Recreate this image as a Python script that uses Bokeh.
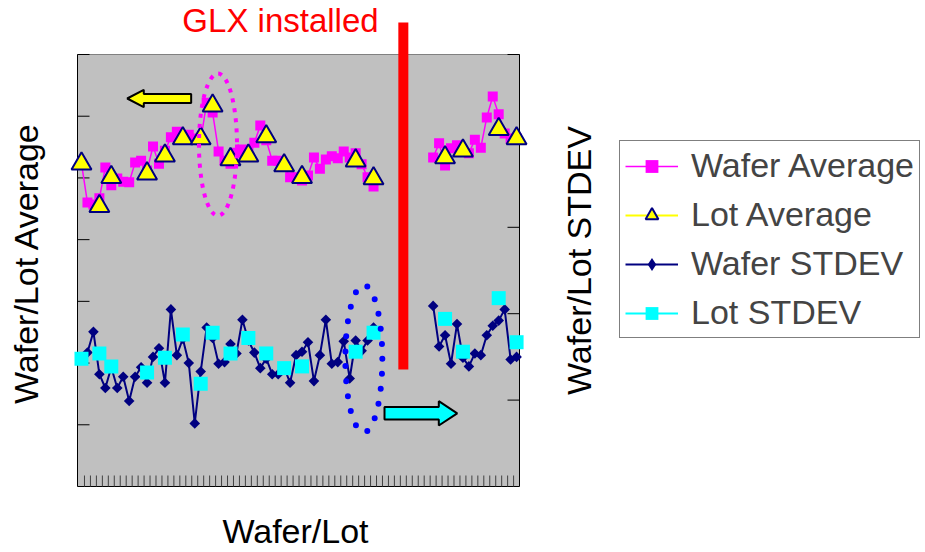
import math
import numpy as np
from bokeh.plotting import figure
from bokeh.models import (Range1d, Legend, LegendItem, Label, ColumnDataSource)
from bokeh.embed import file_html
from bokeh.resources import INLINE

N = None
# ---------------- data ----------------
wafer_index = list(range(74))
wafer_avg = [52.3, 46.0, 45.7, 46.7, 51.7, 48.8, 49.9, 49.4, 49.3, 52.5,
             52.8, 51.2, 55.1, 52.3, 54.4, 56.6, 57.5, 56.6, 57.0, 56.4,
             56.1, 62.2, 60.6, 54.3, 52.8, 52.3, 54.1, 54.6, 54.4, 55.7,
             58.5, 56.1, 52.8, 52.8, 51.9, 50.1, 50.1, 49.6, 50.4, 53.3,
             51.5, 53.0, 53.5, 53.2, 54.3, 53.3, 54.0, 52.2, 50.1, 48.6,
             N, N, N, N, N, N, N, N, N,
             53.3, 55.6, 52.0, 54.8, 55.3, 54.4, 54.0, 56.2, 54.9, 59.8,
             63.2, 60.3, 57.2, 56.4, 56.4]
wafer_std = [1.49, 1.55, 1.79, 1.30, 1.14, 1.38, 1.14, 1.27, 0.99, 1.27,
             1.38, 1.20, 1.50, 1.60, 1.20, 2.05, 1.52, 1.71, 1.43, 0.73,
             1.33, 1.84, 1.72, 1.42, 1.44, 1.65, 1.54, 1.93, 1.69, 1.55,
             1.37, 1.48, 1.30, 1.30, 1.38, 1.20, 1.52, 1.56, 1.67, 1.22,
             1.52, 1.93, 1.42, 1.44, 1.68, 1.25, 1.69, 1.57, 1.69, 1.84,
             N, N, N, N, N, N, N, N, N,
             2.09, 1.62, 1.75, 1.42, 1.88, 1.49, 1.39, 1.54, 1.52, 1.75,
             1.86, 1.92, 2.05, 1.47, 1.50]
lot_index = [0, 3, 5, 11, 14, 17, 20, 22, 25, 28, 31, 34, 37, 46, 49, 61, 64, 70, 73]
lot_avg = [52.3, 45.4, 50.1, 50.7, 53.6, 56.4, 56.4, 61.7, 53.0, 53.6,
           56.7, 52.0, 50.1, 52.8, 49.9, 53.3, 54.4, 57.9, 56.4]
lot_std = [1.48, 1.54, 1.39, 1.32, 1.49, 1.76, 1.19, 1.78, 1.54, 1.72,
           1.54, 1.37, 1.39, 1.56, 1.78, 1.94, 1.56, 2.18, 1.67]
glx_index = 54
avg_ticks = [10, 20, 30, 40, 50, 60, 70]
std_ticks = [1, 2, 3, 4, 5]
x_ticks = [i + 0.5 for i in range(73)]
avg_max = 70
std_max = 5

# ---------------- layout (pixels) ----------------
W, H = 925, 552
PLOT_L, PLOT_R, PLOT_T, PLOT_B = 77, 519, 54, 486
CAT0_PX = 81.0
PX_PER_CAT = (PLOT_R - CAT0_PX) / 73.49
PX_PER_AVG = (PLOT_B - PLOT_T) / avg_max
PX_PER_STD = (PLOT_B - PLOT_T) / std_max
TEXT_SHIFT = 12   # Bokeh places the alphabetic baseline this far below the anchor

def dx(px):   # canvas x pixel -> category coordinate
    return (px - CAT0_PX) / PX_PER_CAT

def dy(py):   # canvas y pixel -> average-axis coordinate
    return (PLOT_B - py) / PX_PER_AVG

X_LO, X_HI = dx(PLOT_L), dx(PLOT_R)

FONT = "Liberation Sans"
MAGENTA, YELLOW, NAVY, CYAN, RED = "#FF00FF", "#FFFF00", "#000080", "#00FFFF", "#FF0000"

def arr(v):
    return np.array([np.nan if a is None else a for a in v], dtype=float)

p = figure(width=W, height=H, output_backend="svg", toolbar_location=None,
           x_range=Range1d(dx(0), dx(W)), y_range=Range1d(dy(H), dy(0)),
           x_axis_location=None, y_axis_location=None, min_border=0,
           background_fill_color="white", border_fill_color="white",
           outline_line_color=None)
p.xgrid.visible = False
p.ygrid.visible = False
p.extra_y_ranges = {"std": Range1d(-(H - PLOT_B) / PX_PER_STD, PLOT_B / PX_PER_STD)}

# plot area
p.quad(left=[X_LO], right=[X_HI], bottom=[0], top=[avg_max], fill_color="#C0C0C0", line_color=None)
p.segment(x0=[X_LO], y0=[avg_max], x1=[X_HI], y1=[avg_max], line_color="#808080", line_width=1)
p.line([X_LO, X_LO, X_HI, X_HI], [avg_max, 0, 0, avg_max], line_color="black", line_width=1)

# tick marks (inside)
p.ray(x=[X_LO] * len(avg_ticks), y=avg_ticks, length=12, length_units="screen", angle=0,
      line_color="black", line_width=1)
p.ray(x=[X_HI] * len(std_ticks), y=std_ticks, y_range_name="std", length=12,
      length_units="screen", angle=math.pi, line_color="black", line_width=1)
p.ray(x=x_ticks, y=[0] * len(x_ticks), length=11, length_units="screen", angle=math.pi / 2,
      line_color="#404040", line_width=1)

src = ColumnDataSource(dict(x=wafer_index, avg=arr(wafer_avg), std=arr(wafer_std)))
lots = ColumnDataSource(dict(x=lot_index, avg=lot_avg, std=lot_std))

r_wa_line = p.line("x", "avg", source=src, line_color=MAGENTA, line_width=1.5)
r_wa_pts = p.scatter("x", "avg", source=src, marker="square", size=10,
                     fill_color=MAGENTA, line_color=MAGENTA, line_width=0)
r_la_line = p.line([0, 1], [np.nan, np.nan], line_color=YELLOW, line_width=2)
r_la_pts = p.scatter("x", "avg", source=lots, marker="triangle", size=20,
                     fill_color=YELLOW, line_color=NAVY, line_width=2)
r_ws_line = p.line("x", "std", source=src, y_range_name="std", line_color=NAVY, line_width=2)
r_ws_pts = p.scatter("x", "std", source=src, y_range_name="std", marker="square",
                     angle=math.pi / 4, size=7.5, fill_color=NAVY, line_color=NAVY, line_width=0)
r_ws_key = p.scatter([0], [np.nan], y_range_name="std", marker="diamond", size=10,
                     fill_color=NAVY, line_color=NAVY, line_width=0)
r_ls_line = p.line([0, 1], [np.nan, np.nan], y_range_name="std", line_color=CYAN, line_width=2)
r_ls_pts = p.scatter("x", "std", source=lots, y_range_name="std", marker="square", size=14,
                     fill_color=CYAN, line_color=CYAN, line_width=0)

# GLX installation marker
p.segment(x0=[glx_index], y0=[dy(369)], x1=[glx_index], y1=[dy(22)], line_color=RED, line_width=10)
p.add_layout(Label(x=glx_index, y=dy(32 - TEXT_SHIFT), x_offset=-24.7, text="GLX installed",
                   text_align="right", text_baseline="alphabetic", text_font=FONT,
                   text_font_size="33px", text_color=RED))

# highlight ellipses
p.ellipse(x=[22.9], y=[55.4], width=38, height=142, width_units="screen", height_units="screen",
          fill_color=None, line_color=MAGENTA, line_width=4, line_dash="4 6")
p.ellipse(x=[47.37], y=[1.478], y_range_name="std", width=37, height=147,
          width_units="screen", height_units="screen", fill_color=None,
          line_color="#0000FF", line_width=6, line_dash="0 15", line_cap="round")

# block arrows pointing to each axis
p.patch([7.67, 10.45, 10.45, 18.4, 18.4, 10.45, 10.45],
        [62.87, 64.28, 63.6, 63.6, 62.14, 62.14, 61.46],
        fill_color=YELLOW, line_color="black", line_width=2)
p.patch([63.04, 59.95, 59.95, 50.84, 50.84, 59.95, 59.95],
        [0.847, 0.988, 0.919, 0.919, 0.775, 0.775, 0.706], y_range_name="std",
        fill_color=CYAN, line_color="black", line_width=2)

# axis titles
def title(text, px, py, angle):
    p.add_layout(Label(x=dx(px), y=dy(py), text=text, angle=angle, text_align="center",
                       text_baseline="alphabetic", text_font=FONT, text_font_size="34px",
                       text_color="black"))

title("Wafer/Lot  Average", 37.5 - TEXT_SHIFT, 258, math.pi / 2)
title("Wafer/Lot STDEV", 590 - TEXT_SHIFT, 260, math.pi / 2)
title("Wafer/Lot", 295, 542 - TEXT_SHIFT, 0)

legend = Legend(items=[
    LegendItem(label="Wafer Average", renderers=[r_wa_line, r_wa_pts]),
    LegendItem(label="Lot Average", renderers=[r_la_line, r_la_pts]),
    LegendItem(label="Wafer STDEV", renderers=[r_ws_line, r_ws_key]),
    LegendItem(label="Lot STDEV", renderers=[r_ls_line, r_ls_pts]),
], location=(619, 214), label_text_font=FONT, label_text_font_size="34px",
   glyph_width=53, glyph_height=32, label_standoff=13, padding=5, spacing=10, margin=0,
   border_line_color="black", border_line_width=1,
   background_fill_color="white", background_fill_alpha=1.0)
p.add_layout(legend)

open("out.html", "w").write(file_html(p, INLINE))
